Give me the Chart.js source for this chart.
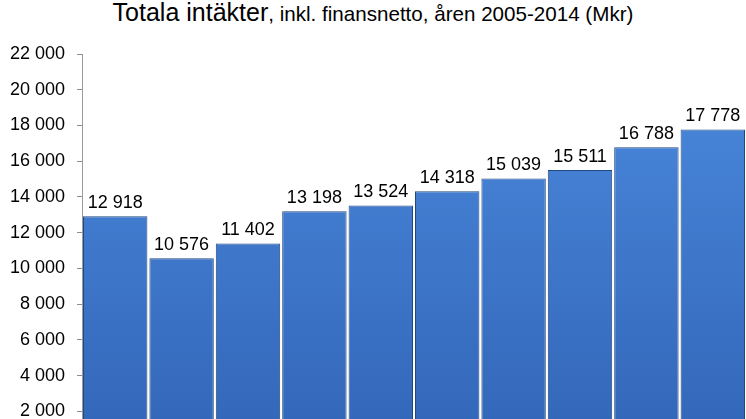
<!DOCTYPE html>
<html>
<head>
<meta charset="utf-8">
<script src="https://cdn.jsdelivr.net/npm/chart.js@4/dist/chart.umd.min.js"></script>
<style>
  html, body { margin: 0; padding: 0; background: #fff; }
  body { width: 746px; height: 419px; overflow: hidden; position: relative; }
  #title {
    position: absolute; top: 0; left: 0; width: 746px; text-align: center;
    font-family: "Liberation Sans", Arial, sans-serif; color: #000;
    line-height: 24px; white-space: nowrap;
  }
  #title .big { font-size: 25px; }
  #title .small { font-size: 20.6px; }
  #chart { position: absolute; top: 0; left: 0; }
</style>
</head>
<body>
<div id="title"><span class="big">Totala intäkter</span><span class="small">, inkl. finansnetto, åren 2005-2014 (Mkr)</span></div>
<canvas id="chart" width="746" height="470"></canvas>
<script>
var years = ["2005", "2006", "2007", "2008", "2009", "2010", "2011", "2012", "2013", "2014"];
var revenue = [12918, 10576, 11402, 13198, 13524, 14318, 15039, 15511, 16788, 17778];
var yTicks = [2000, 4000, 6000, 8000, 10000, 12000, 14000, 16000, 18000, 20000, 22000];

function formatNumber(val) {
  return String(val).replace(/\B(?=(\d{3})+(?!\d))/g, " ");
}

// value labels above each bar
var barLabels = {
  id: "barLabels",
  afterDatasetsDraw: function(chart) {
    var ctx = chart.ctx;
    var meta = chart.getDatasetMeta(0);
    ctx.save();
    ctx.font = "18px 'Liberation Sans', Arial, sans-serif";
    ctx.fillStyle = "#000";
    ctx.textAlign = "center";
    ctx.textBaseline = "alphabetic";
    meta.data.forEach(function(bar, i) {
      ctx.fillText(formatNumber(revenue[i]), bar.x, bar.y - 8);
    });
    ctx.restore();
  }
};

function barFill(context) {
  var area = context.chart.chartArea;
  if (!area) return "#3a74cc";
  var g = context.chart.ctx.createLinearGradient(0, area.top, 0, area.bottom);
  g.addColorStop(0, "#4b8ade");
  g.addColorStop(1, "#3265b7");
  return g;
}

var chart = new Chart("chart", {
  type: "bar",
  data: {
    labels: years,
    datasets: [{
      data: revenue,
      backgroundColor: barFill,
      borderColor: "#22487f",
      borderWidth: 1,
      barPercentage: 0.97,
      categoryPercentage: 1
    }]
  },
  options: {
    responsive: false,
    animation: false,
    devicePixelRatio: 1,
    layout: { padding: { top: 54, bottom: 0, left: 0, right: 0 } },
    plugins: {
      legend: { display: false },
      tooltip: { enabled: false }
    },
    scales: {
      x: { display: false },
      y: {
        min: 0,
        max: 22000,
        afterBuildTicks: function(scale) {
          scale.ticks = yTicks.map(function(v) { return { value: v }; });
        },
        afterFit: function(scale) { scale.width = 82; },
        grid: {
          drawOnChartArea: false,
          drawTicks: true,
          tickLength: 5,
          color: "#8c8c8c"
        },
        border: { display: true, color: "#9a9a9a" },
        ticks: {
          padding: 12,
          color: "#000",
          font: { family: "'Liberation Sans', Arial, sans-serif", size: 18 },
          callback: function(v) { return formatNumber(v); }
        }
      }
    }
  },
  plugins: [barLabels]
});
</script>
</body>
</html>
